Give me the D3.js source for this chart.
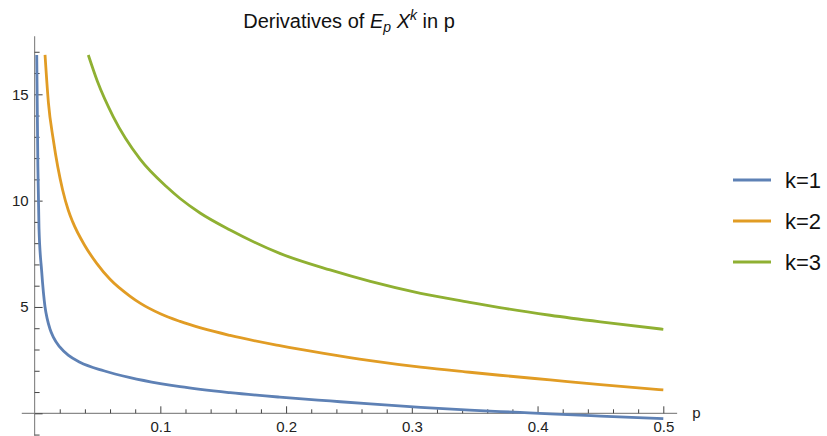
<!DOCTYPE html>
<html>
<head>
<meta charset="utf-8">
<script src="https://cdn.jsdelivr.net/npm/d3@7"></script>
<style>
  body { margin: 0; background: #fff; }
  svg { font-family: "Liberation Sans", Arial, sans-serif; }
</style>
</head>
<body>
<div id="chart"></div>
<script>
// values (p, derivative)
const pK1 = [0.0017, 0.0026, 0.0035, 0.0056, 0.0083, 0.01, 0.0123, 0.0149, 0.02, 0.027, 0.036, 0.055, 0.076, 0.1, 0.1157, 0.1555, 0.195, 0.235, 0.267, 0.307, 0.346, 0.386, 0.41, 0.45, 0.5];
const vK1 = [16.85, 11.6, 8.7, 6.7, 5.0, 4.45, 3.95, 3.58, 3.12, 2.72, 2.4, 2.0, 1.68, 1.4, 1.25, 0.97, 0.76, 0.58, 0.44, 0.28, 0.15, 0.04, -0.03, -0.13, -0.25];

const pK2 = [0.0083, 0.011, 0.0149, 0.0223, 0.0268, 0.0303, 0.04, 0.0494, 0.06, 0.076, 0.0839, 0.1, 0.1157, 0.1555, 0.195, 0.23, 0.267, 0.307, 0.346, 0.37, 0.41, 0.45, 0.5];
const vK2 = [16.85, 14.6, 12.85, 10.5, 9.55, 9.0, 7.88, 7.05, 6.3, 5.5, 5.18, 4.68, 4.32, 3.66, 3.18, 2.82, 2.48, 2.17, 1.93, 1.79, 1.57, 1.35, 1.1];

const pK3 = [0.0427, 0.05, 0.0626, 0.0839, 0.105, 0.1157, 0.1316, 0.1555, 0.195, 0.235, 0.267, 0.307, 0.346, 0.37, 0.41, 0.45, 0.5];
const vK3 = [16.85, 15.6, 13.94, 11.95, 10.65, 10.1, 9.42, 8.62, 7.52, 6.74, 6.2, 5.64, 5.22, 4.97, 4.61, 4.3, 3.95];

const seriesNames = ['k=1', 'k=2', 'k=3'];
const seriesColors = ['#5E81B5', '#E19C24', '#8FB032'];

const xMajor = [0.1, 0.2, 0.3, 0.4, 0.5];
const xMinor = d3.range(1, 26).map(i => i * 0.02).filter(v => Math.abs(v * 10 - Math.round(v * 10)) > 1e-6);
const yMajor = [0, 5, 10, 15];
const yMinor = d3.range(-1, 18).filter(v => v % 5 !== 0);

const WIDTH = 827;
const HEIGHT = 436;

const svg = d3.select('#chart')
    .append('svg')
    .attr('width', WIDTH)
    .attr('height', HEIGHT);

const x = d3.scaleLinear().domain([0, 0.5]).range([34.6, 663.3]);
const y = d3.scaleLinear().domain([0, 15]).range([413.3, 94.3]);

// axis lines
svg.append('line')
    .attr('x1', x(-0.0102)).attr('x2', x(0.511))
    .attr('y1', y(0)).attr('y2', y(0))
    .attr('stroke', '#8a8a8a').attr('stroke-width', 1.2);
svg.append('line')
    .attr('x1', x(0)).attr('x2', x(0))
    .attr('y1', y(17.73)).attr('y2', y(-1.05))
    .attr('stroke', '#8a8a8a').attr('stroke-width', 1.2);

// x ticks
svg.append('g')
    .attr('transform', `translate(0,${y(0)})`)
    .call(d3.axisBottom(x).tickValues(xMajor).tickSize(-7).tickPadding(8).tickFormat(d3.format('.1f')));
svg.append('g')
    .attr('transform', `translate(0,${y(0)})`)
    .call(d3.axisBottom(x).tickValues(xMinor).tickSize(-4).tickFormat(''));

// y ticks
svg.append('g')
    .attr('transform', `translate(${x(0)},0)`)
    .call(d3.axisLeft(y).tickValues(yMajor).tickSize(-8).tickPadding(6).tickFormat(d => d === 0 ? '' : d));
svg.append('g')
    .attr('transform', `translate(${x(0)},0)`)
    .call(d3.axisLeft(y).tickValues(yMinor).tickSize(-5).tickFormat(''));

svg.selectAll('.domain').remove();
svg.selectAll('.tick line').attr('stroke', '#444').attr('stroke-width', 1);
svg.selectAll('.tick text')
    .attr('font-size', 15)
    .attr('fill', '#222')
    .style('font-family', '"Liberation Sans", Arial, sans-serif');

// axis label
svg.append('text')
    .attr('x', x(0.511) + 15)
    .attr('y', y(0) + 5)
    .attr('font-size', 15)
    .attr('fill', '#222')
    .text('p');

// curves
const series = [
    pK1.map((p, i) => [p, vK1[i]]),
    pK2.map((p, i) => [p, vK2[i]]),
    pK3.map((p, i) => [p, vK3[i]])
];

const line = d3.line()
    .x(d => x(d[0]))
    .y(d => y(d[1]))
    .curve(d3.curveMonotoneX);

svg.selectAll('path.curve')
    .data(series)
    .enter()
    .append('path')
    .attr('class', 'curve')
    .attr('d', line)
    .attr('fill', 'none')
    .attr('stroke', (d, i) => seriesColors[i])
    .attr('stroke-width', 2.8);

// title
const title = svg.append('text')
    .attr('x', 349)
    .attr('y', 28)
    .attr('text-anchor', 'middle')
    .attr('font-size', 20)
    .attr('fill', '#111');
title.append('tspan').text('Derivatives of ');
title.append('tspan').attr('font-style', 'italic').text('E');
title.append('tspan').attr('font-style', 'italic').attr('font-size', 14).attr('dy', 4).text('p');
title.append('tspan').attr('dy', -4).text(' ');
title.append('tspan').attr('font-style', 'italic').text('X');
title.append('tspan').attr('font-style', 'italic').attr('font-size', 14).attr('dy', -8).text('k');
title.append('tspan').attr('dy', 8).text(' in p');

// legend
const legendY = [180, 221, 262];
const legend = svg.selectAll('g.legend')
    .data(seriesNames)
    .enter()
    .append('g')
    .attr('class', 'legend')
    .attr('transform', (d, i) => `translate(0,${legendY[i]})`);

legend.append('line')
    .attr('x1', 733).attr('x2', 771)
    .attr('y1', 0).attr('y2', 0)
    .attr('stroke', (d, i) => seriesColors[i])
    .attr('stroke-width', 2.8);

legend.append('text')
    .attr('x', 785)
    .attr('y', 0)
    .attr('dy', '0.36em')
    .attr('font-size', 22)
    .attr('fill', '#111')
    .text(d => d);
</script>
</body>
</html>
